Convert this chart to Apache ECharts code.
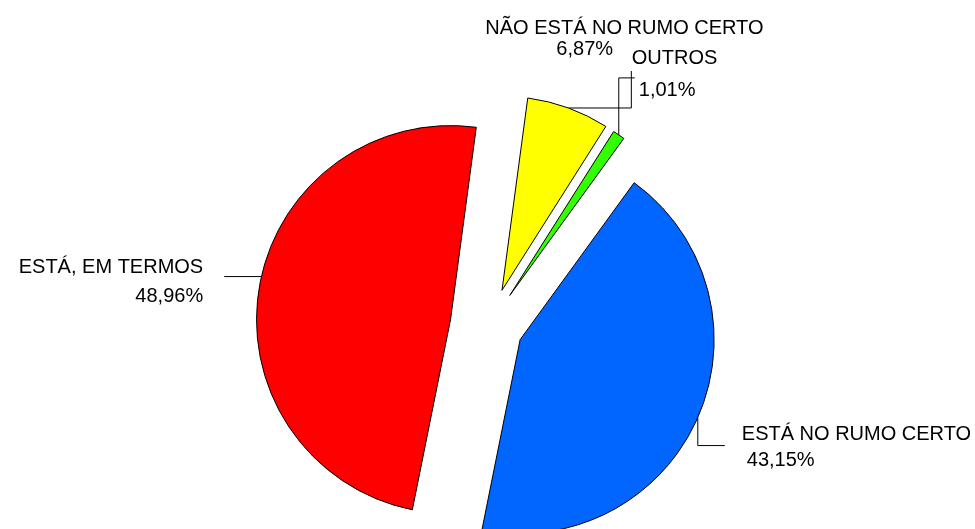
<!DOCTYPE html>
<html>
<head>
<meta charset="utf-8">
<script src="https://cdn.jsdelivr.net/npm/echarts@6/dist/echarts.min.js"></script>
<style>
html,body{margin:0;padding:0;background:#fff;}
#chart{width:975px;height:529px;}
</style>
</head>
<body>
<div id="chart"></div>
<script>
// ---- data ----
const categories = ['ESTÁ NO RUMO CERTO', 'ESTÁ, EM TERMOS', 'NÃO ESTÁ NO RUMO CERTO', 'OUTROS'];
const shares = [43.15, 48.96, 6.87, 1.01];

// ---- styles / layout ----
const sliceColors = ['#0066ff', '#ff0000', '#ffff00', '#33ff00'];
const explodeDist = [34, 39, 38, 37];
const baseCenter = [489, 326];
const pieRadius = 194;
const startAngle = 54;
const FONT = '"Liberation Sans", Arial, sans-serif';
const FONT_SIZE = 20;

// label plans relative to the anchor point A on the slice arc
const labelPlans = [
  { line: A => [A, [A[0], A[1] + 28], [A[0] + 27, A[1] + 28]], dx: 44, dy: 30, align: 'left', lh: 25.5, pad: 5 },
  { line: A => [[A[0] + 5, A[1] - 11], [A[0] - 35, A[1] - 11]], dx: -56, dy: -5.5, align: 'right', lh: 29, pad: 0 },
  { line: A => [A, [A[0] + 63, A[1]], [A[0] + 63, A[1] - 37]], dx: -83, dy: -69, align: 'left', lh: 21, pad: 71 },
  { line: A => [A, [A[0], A[1] - 57], [A[0] + 16, A[1] - 57]], dx: 13, dy: -60, align: 'left', lh: 32, pad: 7 }
];

const fmt = v => v.toFixed(2).replace('.', ',') + '%';
const total = shares.reduce((a, b) => a + b, 0);

function sliceCenter(k) {
  let before = 0;
  for (let i = 0; i < k; i++) before += shares[i];
  const mid = (startAngle - 360 * (before + shares[k] / 2) / total) * Math.PI / 180;
  return [baseCenter[0] + explodeDist[k] * Math.cos(mid), baseCenter[1] - explodeDist[k] * Math.sin(mid)];
}

function makeSeries(k) {
  const plan = labelPlans[k];
  return {
    type: 'pie',
    radius: pieRadius,
    center: sliceCenter(k),
    startAngle: startAngle,
    clockwise: true,
    avoidLabelOverlap: false,
    silent: true,
    animation: false,
    label: {
      show: true,
      position: 'outside',
      color: '#000',
      formatter: p => '{n|' + p.name + '}\n{p|' + fmt(p.value) + '}',
      rich: {
        n: { fontFamily: FONT, fontSize: FONT_SIZE, lineHeight: plan.lh, color: '#000' },
        p: { fontFamily: FONT, fontSize: FONT_SIZE, lineHeight: plan.lh, color: '#000', padding: [0, 0, 0, plan.pad] }
      }
    },
    labelLine: { show: true, length: 20, length2: 20, smooth: false, lineStyle: { color: '#000', width: 1 } },
    labelLayout: function (params) {
      if (params.dataIndex !== k || !params.labelLinePoints) return {};
      const A = params.labelLinePoints[0];
      return {
        x: A[0] + plan.dx,
        y: A[1] + plan.dy,
        align: plan.align,
        verticalAlign: 'middle',
        labelLinePoints: plan.line(A)
      };
    },
    data: categories.map((c, i) => ({
      name: c,
      value: shares[i],
      itemStyle: i === k
        ? { color: sliceColors[i], borderColor: '#000', borderWidth: 1 }
        : { color: 'rgba(0,0,0,0)', borderWidth: 0 },
      label: { show: i === k },
      labelLine: { show: i === k }
    }))
  };
}

const chart = echarts.init(document.getElementById('chart'), null, { renderer: 'canvas' });
chart.setOption({
  backgroundColor: '#ffffff',
  animation: false,
  series: categories.map((c, k) => makeSeries(k))
});
</script>
</body>
</html>
